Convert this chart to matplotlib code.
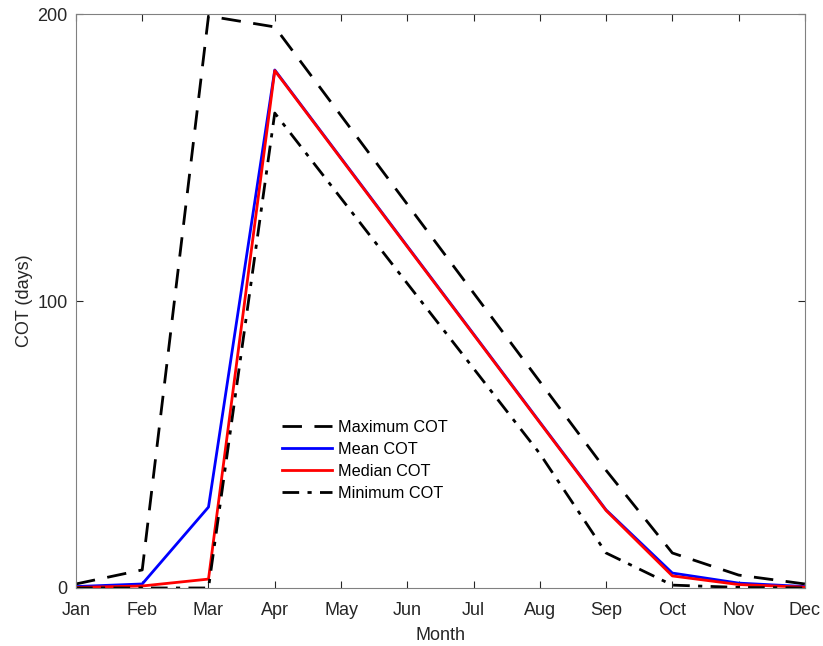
import numpy as np
import matplotlib
matplotlib.use('Agg')
import matplotlib.pyplot as plt

months = ['Jan', 'Feb', 'Mar', 'Apr', 'May', 'Jun', 'Jul', 'Aug', 'Sep', 'Oct', 'Nov', 'Dec']
max_cot = [1.4, 6.3, 199.3, 195.5, 164.6, 133.7, 102.8, 71.9, 41.0, 12.2, 4.5, 1.4]
mean_cot = [0.5, 1.4, 28.2, 180.5, 149.8, 119.1, 88.5, 57.8, 27.2, 5.2, 1.7, 0.5]
median_cot = [0.2, 0.7, 3.1, 180.3, 149.6, 118.9, 88.3, 57.6, 27.0, 4.2, 1.2, 0.3]
min_cot = [0.0, 0.0, 0.0, 165.5, 135.8, 106.1, 76.5, 46.8, 12.2, 1.0, 0.2, 0.0]

plt.rcParams['font.family'] = ['Liberation Sans', 'DejaVu Sans']
fig = plt.figure(figsize=(8.23, 6.46), dpi=100)
ax = fig.add_axes([0.0923, 0.0898, 0.8857, 0.8885])
x = np.arange(len(months))

ax.plot(x, max_cot, color='k', ls=(0, (7, 4.5)), lw=2, label='Maximum COT')
ax.plot(x, mean_cot, color='b', lw=2, label='Mean COT')
ax.plot(x, median_cot, color='r', lw=2, label='Median COT')
ax.plot(x, min_cot, color='k', ls=(0, (6, 3, 1.5, 3)), lw=2, label='Minimum COT')

ax.set_xlim(0, 11)
ax.set_ylim(0, 200)
ax.set_xticks(x)
ax.set_xticklabels(months)
ax.set_yticks([0, 100, 200])
ax.tick_params(direction='in', top=True, right=True, labelsize=13, colors='#262626',
               length=5)
ax.tick_params(axis='x', pad=10)
ax.tick_params(axis='y', pad=6)
for s in ax.spines.values():
    s.set_color('#808080')
ax.set_xlabel('Month', fontsize=13, color='#262626', labelpad=6)
ax.set_ylabel('COT (days)', fontsize=13, color='#262626', labelpad=3)
ax.legend(loc='upper left', bbox_to_anchor=(0.262, 0.318), frameon=False, fontsize=11.7,
          handlelength=3.1, labelspacing=0.42, handletextpad=0.4)

fig.savefig('out.png', dpi=100)
